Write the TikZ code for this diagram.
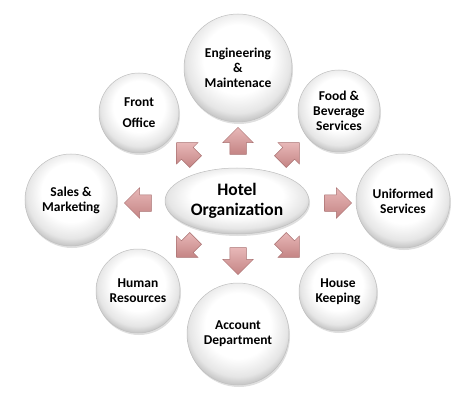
\documentclass[tikz,border=0pt]{standalone}
\usepackage{fontspec}
\setmainfont{Carlito}
\usetikzlibrary{shapes.geometric,shapes.arrows,shadows}
\definecolor{arrowpink}{RGB}{232,184,184}
\definecolor{arrowdeep}{RGB}{196,132,132}
\definecolor{arrowedge}{RGB}{168,112,112}
\pgfdeclareradialshading{bubble}{\pgfpoint{0bp}{6bp}}{color(0bp)=(white); color(16bp)=(white); color(24bp)=(gray!20); color(27bp)=(gray!42); color(50bp)=(gray!42)}
\tikzset{>=stealth,
    dept/.style={circle, shading=bubble, draw=gray!50, line width=0.5pt,
        drop shadow={shadow xshift=1pt, shadow yshift=-2pt, opacity=0.25},
        align=center, inner sep=0pt, font=\bfseries\fontsize{13.5}{15}\selectfont},
    hub/.style={ellipse, shading=bubble, draw=gray!50, line width=0.5pt,
        drop shadow={shadow xshift=1pt, shadow yshift=-2pt, opacity=0.25},
        align=center, inner sep=0pt, font=\bfseries\fontsize{17.5}{20}\selectfont},
    blockarrow/.style={single arrow, shade, top color=arrowpink, bottom color=arrowdeep,
        draw=arrowedge, line width=0.5pt, minimum height=27pt,
        inner xsep=0pt, inner ysep=8pt, single arrow head extend=7pt}
}
\begin{document}
\begin{tikzpicture}[x=1pt,y=-1pt]
    \useasboundingbox (0,0) rectangle (474,401);
    \node[dept, minimum size=108pt] (eng) at (238,68) {Engineering\\\&\\Maintenace};
    \node[dept, minimum size=80pt] (front) at (139,113) {Front\\[6pt]Office};
    \node[dept, minimum size=82pt] (food) at (339,111) {Food \&\\Beverage\\Services};
    \node[dept, minimum size=92pt] (sales) at (71,200) {Sales \&\\Marketing};
    \node[dept, minimum size=94pt] (uniform) at (403,201) {Uniformed\\Services};
    \node[dept, minimum size=84pt] (human) at (138,291) {Human\\Resources};
    \node[dept, minimum size=78pt] (house) at (338,292) {House\\Keeping};
    \node[dept, minimum size=102pt] (account) at (238,334) {Account\\Department};
    \node[hub, minimum width=144pt, minimum height=66pt] (hotel) at (237,201) {Hotel\\Organization};
    \node[blockarrow, rotate=90] (toeng) at (238,145) {};
    \node[blockarrow, rotate=135] (tofront) at (189,155) {};
    \node[blockarrow, rotate=45] (tofood) at (287,155) {};
    \node[blockarrow, rotate=180] (tosales) at (142,203) {};
    \node[blockarrow, rotate=0] (touniform) at (334,203) {};
    \node[blockarrow, rotate=225] (tohuman) at (189,245) {};
    \node[blockarrow, rotate=270] (toaccount) at (238,257) {};
    \node[blockarrow, rotate=315] (tohouse) at (287,245) {};
\end{tikzpicture}
\end{document}
